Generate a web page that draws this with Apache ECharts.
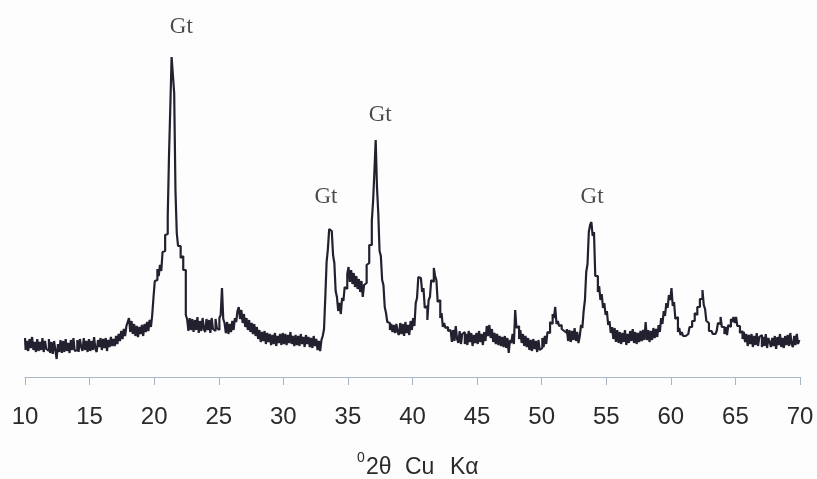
<!DOCTYPE html>
<html>
<head>
<meta charset="utf-8">
<script src="https://cdn.jsdelivr.net/npm/echarts@6/dist/echarts.min.js"></script>
<style>
  html, body { margin: 0; padding: 0; background: #fdfdfd; }
  #chart { width: 817px; height: 479px; }
</style>
</head>
<body>
<div id="chart"></div>
<script>
// 2theta scan, 10..70 deg in 0.1 deg steps
const scanStart = 10
const scanStep = 0.1
const intensity = [
  39,27,36,26,38,29,40,27,35,25,
  38,26,35,27,39,25,36,28,26,38,
  24,35,23,36,27,18,33,25,37,24,
  36,25,38,26,34,24,37,27,39,26,
  27,37,25,38,30,26,39,27,36,25,
  38,26,36,27,40,28,25,37,30,39,
  27,38,29,39,26,37,30,40,31,38,
  31,41,33,43,36,46,38,48,41,51,
  55,59,45,56,43,53,41,51,40,50,
  43,52,41,53,45,55,46,57,50,62,
  80,96,97,108,101,112,106,125,126,142,
  143,160,222,270,320,302,284,186,144,131,
  131,119,121,107,107,62,58,46,59,47,
  58,45,57,47,60,44,56,46,59,48,
  45,58,47,57,44,59,48,46,58,49,
  47,59,62,89,58,54,44,55,43,53,
  45,56,47,59,55,66,70,58,67,54,
  63,50,59,47,57,45,54,43,53,41,
  50,38,47,35,45,36,46,33,44,35,
  43,32,42,33,44,31,41,34,43,32,
  44,33,43,32,42,34,45,33,41,31,
  42,32,41,31,43,33,40,30,42,33,
  40,30,39,29,41,31,38,27,36,26,
  37,41,48,80,115,128,148,146,144,122,
  114,86,80,66,74,63,79,76,90,88,
  103,110,95,107,93,104,90,101,88,98,
  85,96,80,92,94,112,114,132,132,156,
  176,205,237,190,164,126,121,97,92,70,
  64,55,54,47,53,45,52,44,53,45,
  42,54,43,53,41,55,44,52,42,56,
  47,59,51,74,79,100,99,101,85,89,
  69,71,57,77,80,97,95,109,101,97,
  75,77,59,64,50,54,49,50,46,47,
  45,35,47,36,51,38,34,46,33,43,
  45,33,43,32,46,35,44,31,42,34,
  44,33,46,35,43,32,45,36,51,41,
  52,39,48,35,44,33,43,32,41,31,
  40,30,41,29,39,24,37,34,43,33,
  67,49,51,38,47,34,43,31,41,30,
  39,27,37,26,38,28,36,25,37,27,
  29,39,30,41,33,45,44,55,53,63,
  59,70,53,56,51,52,48,46,45,44,
  48,36,47,35,46,37,49,36,45,34,
  41,52,49,66,77,105,113,145,152,155,
  141,145,101,101,85,91,77,83,69,74,
  62,66,52,56,44,50,38,49,35,47,
  34,45,33,44,35,47,32,43,34,46,
  36,48,34,45,33,44,35,46,36,47,
  37,55,37,47,35,46,37,49,39,48,
  40,52,45,59,53,66,61,74,69,82,
  77,89,71,75,58,60,45,49,42,45,
  41,41,39,43,43,50,50,56,56,64,
  62,70,70,78,78,87,72,68,56,54,
  46,46,44,43,43,44,46,54,53,60,
  50,50,43,50,42,52,50,58,55,60,
  54,60,51,51,44,46,38,45,35,43,
  31,42,33,43,30,41,32,44,31,40,
  42,30,40,31,43,29,39,35,30,39,
  31,41,28,40,32,43,30,39,29,41,
  32,42,31,44,33,30,41,32,43,33,
  37
]
const xTicks = [10, 15, 20, 25, 30, 35, 40, 45, 50, 55, 60, 65, 70]
// peak labels
const gtLabel = "Gt"
const gtX = [22.1, 33.3, 37.5, 53.9]
const gtY = [350, 180, 262, 180]

let points = intensity.map((v, i) => [+(scanStart + i * scanStep).toFixed(1), v])
let gtPoints = gtX.map((x, i) => [x, gtY[i]])

let myChart = echarts.init(document.getElementById("chart"))
myChart.setOption({
  backgroundColor: "#fdfdfd",
  animation: false,
  grid: {
    left: 25,
    right: 17,
    top: 0,
    bottom: 102
  },
  xAxis: {
    type: "value",
    min: xTicks[0],
    max: xTicks[xTicks.length - 1],
    interval: 5,
    splitLine: { show: false },
    axisLine: {
      lineStyle: { color: "#aab4c6", width: 1 }
    },
    axisTick: {
      length: 8,
      lineStyle: { color: "#aab4c6" }
    },
    axisLabel: {
      margin: 28,
      color: "#2a2a2a",
      fontSize: 24,
      fontFamily: "Liberation Sans"
    }
  },
  yAxis: {
    type: "value",
    min: 0,
    max: 377,
    show: false
  },
  series: [
    {
      type: "line",
      data: points,
      symbol: "none",
      step: "middle",
      lineStyle: { color: "#23212f", width: 2.2 }
    },
    {
      type: "scatter",
      data: gtPoints,
      symbolSize: 0,
      label: {
        show: true,
        position: "inside",
        formatter: gtLabel,
        color: "#1a1a1a",
        fontSize: 23,
        fontFamily: "Liberation Serif"
      }
    }
  ],
  graphic: [
    { type: "text", left: 357, top: 451, style: { text: "0", fontSize: 14, fill: "#2a2a2a", fontFamily: "Liberation Sans" } },
    { type: "text", left: 366, top: 456, style: { text: "2θ", fontSize: 23, fill: "#2a2a2a", fontFamily: "Liberation Sans" } },
    { type: "text", left: 405, top: 456, style: { text: "Cu", fontSize: 23, fill: "#2a2a2a", fontFamily: "Liberation Sans" } },
    { type: "text", left: 450, top: 456, style: { text: "Kα", fontSize: 23, fill: "#2a2a2a", fontFamily: "Liberation Sans" } }
  ]
})
</script>
</body>
</html>
